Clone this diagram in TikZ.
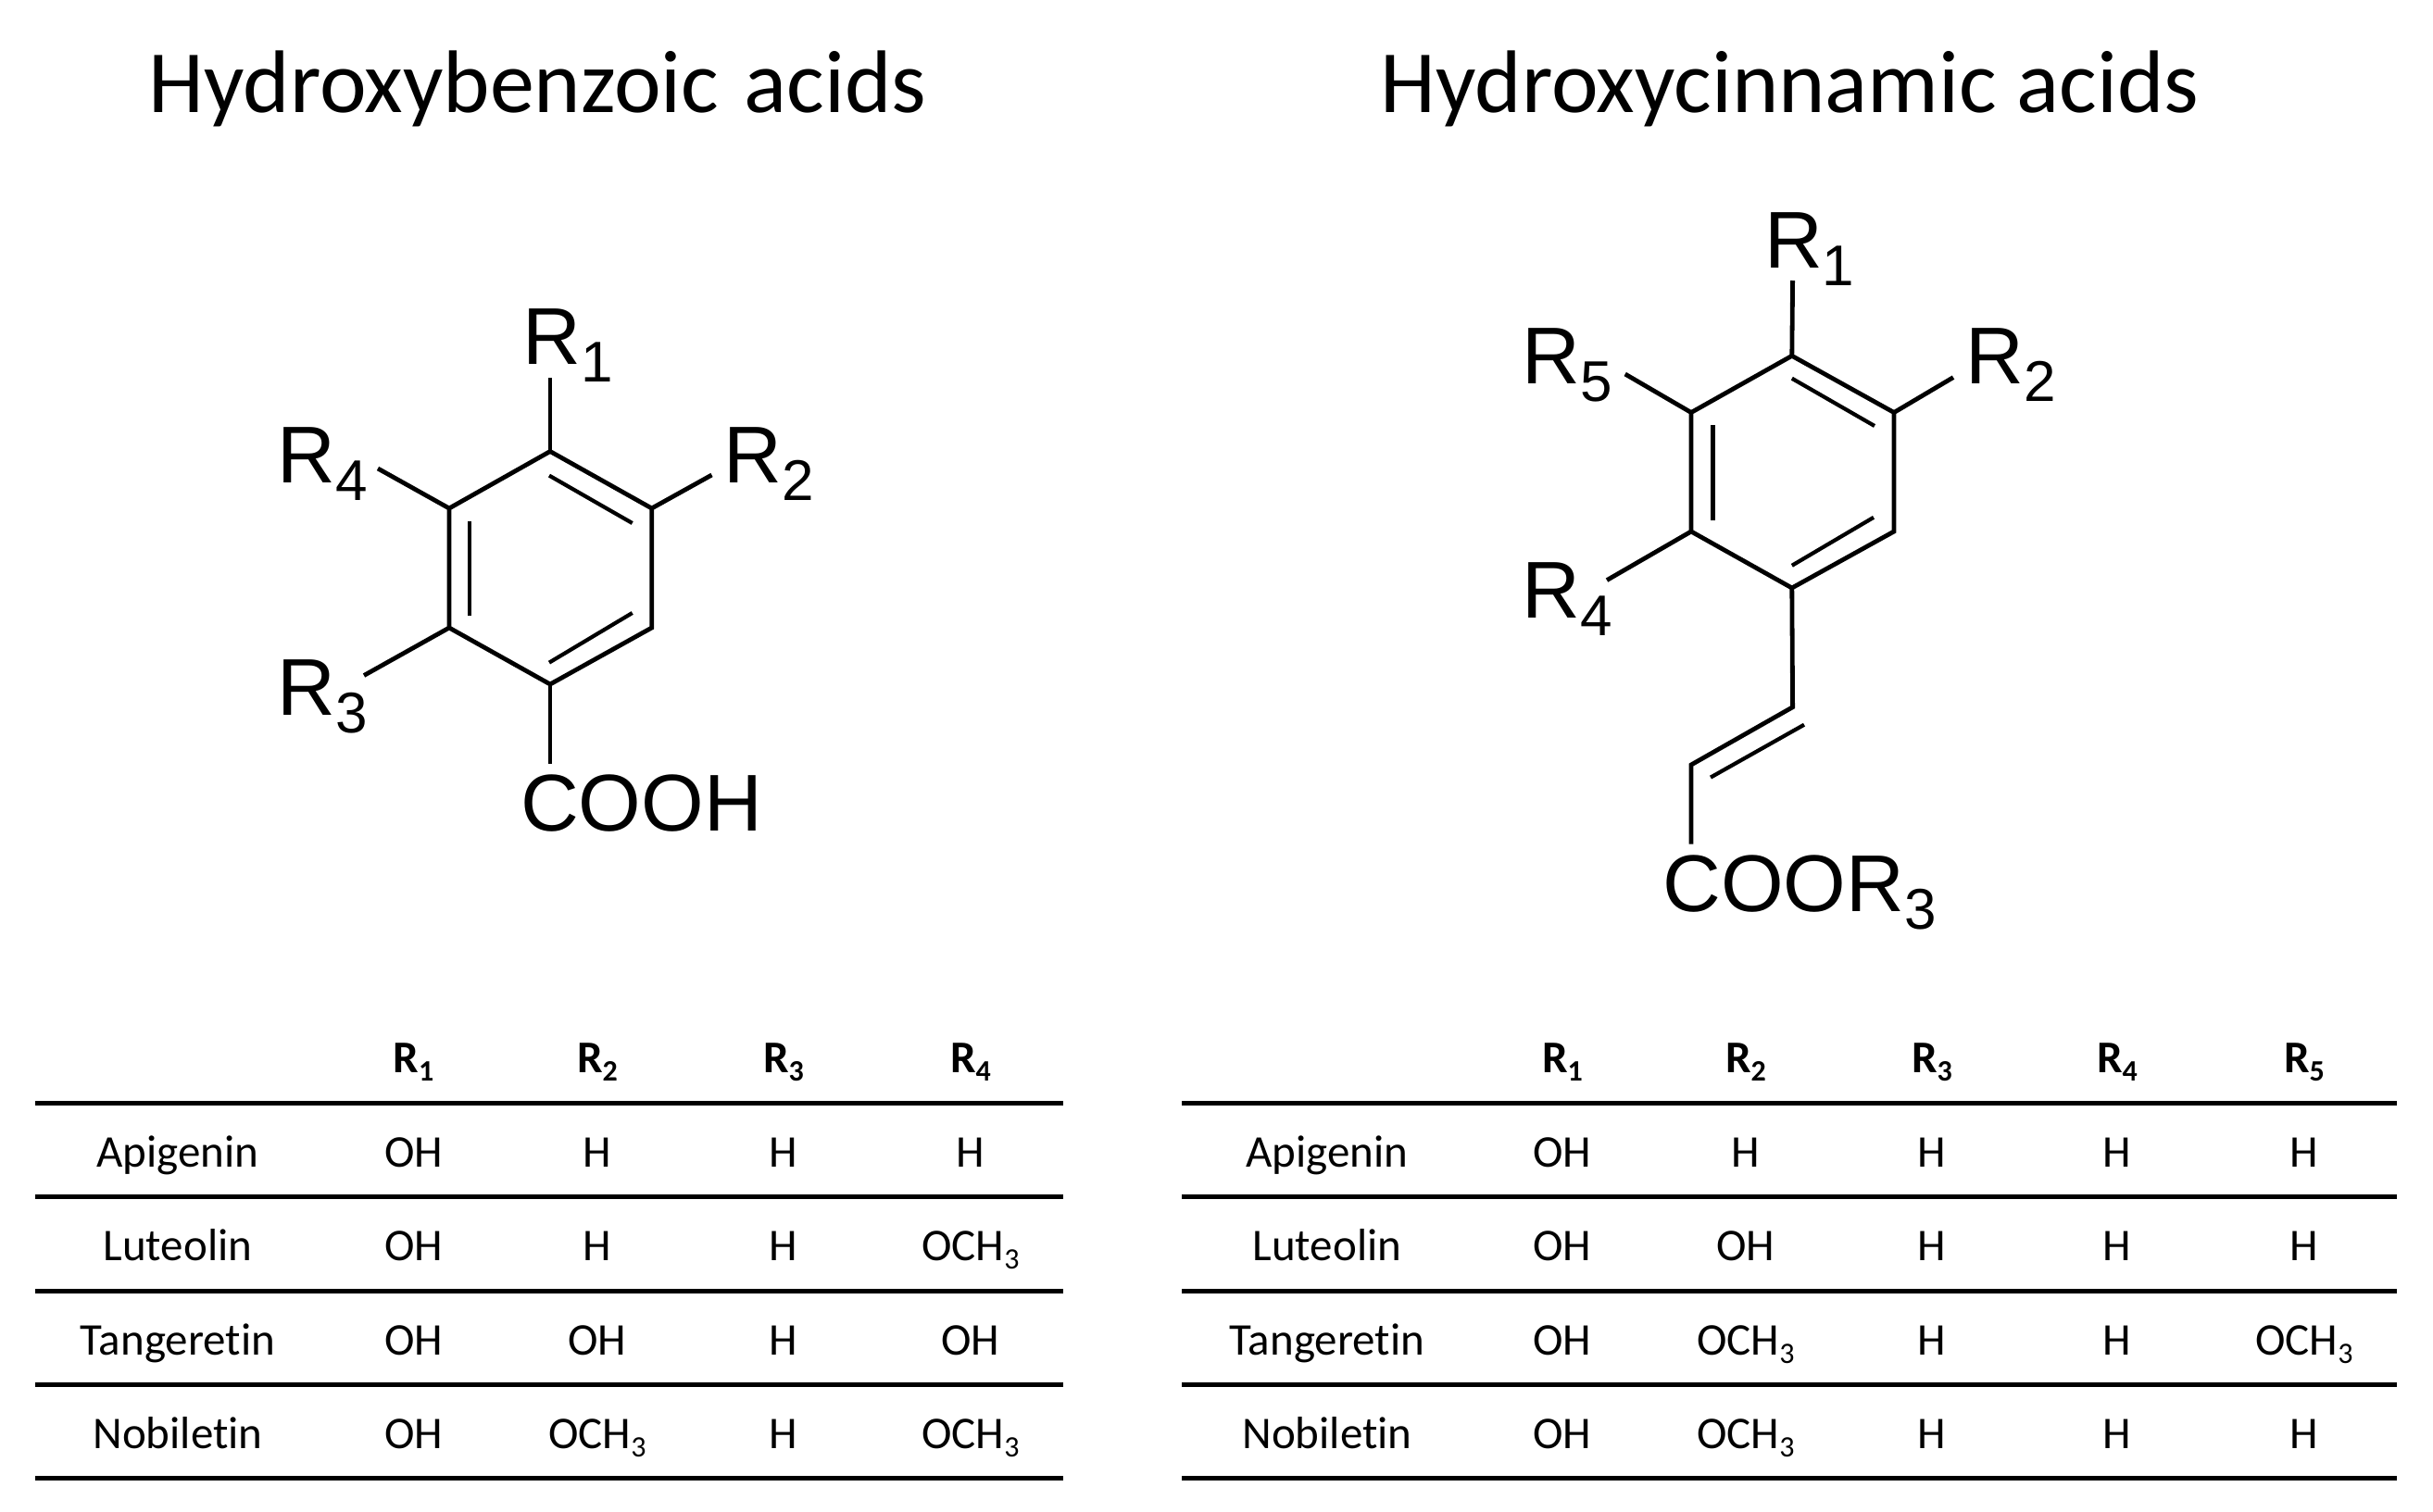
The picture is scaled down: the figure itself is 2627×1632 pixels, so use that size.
\documentclass[tikz,border=0pt]{standalone}
\usepackage{fontspec}
\setmainfont[Ligatures=NoCommon]{Carlito}
\newfontfamily\chemfont{Liberation Sans}
\usepackage{tikz}
\newcommand{\rsub}[1]{R\raisebox{-9.5pt}{\fontsize{31}{31}\selectfont #1}}
\newcommand{\csub}[1]{\raisebox{-4.5pt}{\fontsize{16}{16}\selectfont #1}}

\begin{document}
\begin{tikzpicture}
		[x=0.5pt, y=-0.5pt, inner sep=0pt,
		group/.style	= {anchor=base west, font=\chemfont\fontsize{43.5}{43.5}\selectfont},
		heading/.style	= {anchor=base west, font=\fontsize{48}{48}\selectfont},
		cell/.style		= {anchor=base, font=\fontsize{24.5}{24.5}\selectfont},
		head/.style		= {anchor=base, font=\bfseries\fontsize{24.5}{24.5}\selectfont},
		bond/.style		= {line width=2.4pt, line join=miter},
		inner bond/.style	= {line width=2.1pt},
		tablerule/.style	= {line width=2.5pt}]
		
		\useasboundingbox (0, 0) rectangle (2627, 1632);
		
		\node at (160, 121)		[heading]	(htitle)	{Hydroxybenzoic\hspace{3pt} acids};
		\node at (1490, 121)	[heading]	(ctitle)	{Hydroxycinnamic acids};
		
		% benzoic ring
		\coordinate (b1) at (594, 487.5);
		\coordinate (b2) at (703.7, 549);
		\coordinate (b3) at (703.7, 678);
		\coordinate (b4) at (594, 739);
		\coordinate (b5) at (485, 678);
		\coordinate (b6) at (485, 549);
		
		\coordinate (bi1) at (593, 513.6);
		\coordinate (bi2) at (682.7, 565);
		\coordinate (bi3) at (682.7, 662);
		\coordinate (bi4) at (593, 715.6);
		\coordinate (bi5) at (506.7, 665);
		\coordinate (bi6) at (506.7, 563);
		
		\coordinate (bR1) at (594, 408);
		\coordinate (bR2) at (768.5, 513);
		\coordinate (bR3) at (393, 729.5);
		\coordinate (bR4) at (408, 506);
		\coordinate (bCO) at (594, 825);
		
		\node at (564, 393.6)	[group]	(bl1)	{\rsub{1}};
		\node at (781.4, 521)	[group]	(bl2)	{\rsub{2}};
		\node at (299, 772.4)	[group]	(bl3)	{\rsub{3}};
		\node at (299, 521)		[group]	(bl4)	{\rsub{4}};
		\node at (561.7, 897.4)	[group]	(blc)	{COOH};
		
		\draw [bond] (b1) -- (b2) -- (b3) -- (b4) -- (b5) -- (b6) -- cycle;
		\draw [inner bond] (bi1) -- (bi2);
		\draw [inner bond] (bi3) -- (bi4);
		\draw [inner bond] (bi5) -- (bi6);
		\draw [bond] (b1) -- (bR1);
		\draw [bond] (b2) -- (bR2);
		\draw [bond] (b5) -- (bR3);
		\draw [bond] (b6) -- (bR4);
		\draw [bond] (b4) -- (bCO);
		
		% cinnamic ring
		\coordinate (c1) at (1934.8, 384.3);
		\coordinate (c2) at (2045, 445.5);
		\coordinate (c3) at (2045, 574);
		\coordinate (c4) at (1934.8, 635);
		\coordinate (c5) at (1826, 574);
		\coordinate (c6) at (1826, 445.5);
		
		\coordinate (ci1) at (1934.8, 408.7);
		\coordinate (ci2) at (2024, 460);
		\coordinate (ci3) at (2023, 558.8);
		\coordinate (ci4) at (1934.8, 610.8);
		\coordinate (ci5) at (1849.4, 561.5);
		\coordinate (ci6) at (1849.4, 458.5);
		
		\coordinate (cR1) at (1935.6, 303);
		\coordinate (cR2) at (2109, 407.6);
		\coordinate (cR4) at (1735, 626.6);
		\coordinate (cR5) at (1754.7, 404);
		\coordinate (cv1) at (1935.6, 763.7);
		\coordinate (cv2) at (1826, 826);
		\coordinate (cv3) at (1826, 911.6);
		\coordinate (cvi1) at (1948, 782.7);
		\coordinate (cvi2) at (1847, 839.6);
		
		\node at (1904.6, 289.4)	[group]	(cl1)	{\rsub{1}};
		\node at (2122, 414)		[group]	(cl2)	{\rsub{2}};
		\node at (1643, 667.8)		[group]	(cl4)	{\rsub{4}};
		\node at (1643, 414)		[group]	(cl5)	{\rsub{5}};
		\node at (1795, 984)		[group]	(clc)	{COO\rsub{3}};
		
		\draw [bond] (c1) -- (c2) -- (c3) -- (c4) -- (c5) -- (c6) -- cycle;
		\draw [inner bond] (ci1) -- (ci2);
		\draw [inner bond] (ci3) -- (ci4);
		\draw [inner bond] (ci5) -- (ci6);
		\draw [bond] (c1) -- (cR1);
		\draw [bond] (c2) -- (cR2);
		\draw [bond] (c5) -- (cR4);
		\draw [bond] (c6) -- (cR5);
		\draw [bond] (c4) -- (cv1) -- (cv2) -- (cv3);
		\draw [inner bond] (cvi1) -- (cvi2);
		
		% left table
		\node at (446.5, 1158)	[head]	(lh1)	{R\csub{1}};
		\node at (645, 1158)	[head]	(lh2)	{R\csub{2}};
		\node at (846, 1158)	[head]	(lh3)	{R\csub{3}};
		\node at (1048, 1158)	[head]	(lh4)	{R\csub{4}};
		
		\node at (192, 1260)	[cell]	(la)	{Apigenin};
		\node at (446.5, 1260)	[cell]	(la1)	{OH};
		\node at (645, 1260)	[cell]	(la2)	{H};
		\node at (846, 1260)	[cell]	(la3)	{H};
		\node at (1048, 1260)	[cell]	(la4)	{H};
		
		\node at (192, 1361.3)	[cell]	(lb)	{Luteolin};
		\node at (446.5, 1361.3)	[cell]	(lb1)	{OH};
		\node at (645, 1361.3)	[cell]	(lb2)	{H};
		\node at (846, 1361.3)	[cell]	(lb3)	{H};
		\node at (1048, 1361.3)	[cell]	(lb4)	{OCH\csub{3}};
		
		\node at (192, 1463)	[cell]	(lc)	{Tangeretin};
		\node at (446.5, 1463)	[cell]	(lc1)	{OH};
		\node at (645, 1463)	[cell]	(lc2)	{OH};
		\node at (846, 1463)	[cell]	(lc3)	{H};
		\node at (1048, 1463)	[cell]	(lc4)	{OH};
		
		\node at (192, 1564.4)	[cell]	(ld)	{Nobiletin};
		\node at (446.5, 1564.4)	[cell]	(ld1)	{OH};
		\node at (645, 1564.4)	[cell]	(ld2)	{OCH\csub{3}};
		\node at (846, 1564.4)	[cell]	(ld3)	{H};
		\node at (1048, 1564.4)	[cell]	(ld4)	{OCH\csub{3}};
		
		\coordinate (lr0a) at (38, 1191.6);		\coordinate (lr0b) at (1148, 1191.6);
		\coordinate (lr1a) at (38, 1292.4);		\coordinate (lr1b) at (1148, 1292.4);
		\coordinate (lr2a) at (38, 1394);		\coordinate (lr2b) at (1148, 1394);
		\coordinate (lr3a) at (38, 1495.5);		\coordinate (lr3b) at (1148, 1495.5);
		\coordinate (lr4a) at (38, 1596.7);		\coordinate (lr4b) at (1148, 1596.7);
		
		\draw [tablerule] (lr0a) -- (lr0b);
		\draw [tablerule] (lr1a) -- (lr1b);
		\draw [tablerule] (lr2a) -- (lr2b);
		\draw [tablerule] (lr3a) -- (lr3b);
		\draw [tablerule] (lr4a) -- (lr4b);
		
		% right table
		\node at (1687, 1158)	[head]	(rh1)	{R\csub{1}};
		\node at (1885, 1158)	[head]	(rh2)	{R\csub{2}};
		\node at (2086, 1158)	[head]	(rh3)	{R\csub{3}};
		\node at (2286, 1158)	[head]	(rh4)	{R\csub{4}};
		\node at (2488, 1158)	[head]	(rh5)	{R\csub{5}};
		
		\node at (1433, 1260)	[cell]	(ra)	{Apigenin};
		\node at (1687, 1260)	[cell]	(ra1)	{OH};
		\node at (1885, 1260)	[cell]	(ra2)	{H};
		\node at (2086, 1260)	[cell]	(ra3)	{H};
		\node at (2286, 1260)	[cell]	(ra4)	{H};
		\node at (2488, 1260)	[cell]	(ra5)	{H};
		
		\node at (1433, 1361.3)	[cell]	(rb)	{Luteolin};
		\node at (1687, 1361.3)	[cell]	(rb1)	{OH};
		\node at (1885, 1361.3)	[cell]	(rb2)	{OH};
		\node at (2086, 1361.3)	[cell]	(rb3)	{H};
		\node at (2286, 1361.3)	[cell]	(rb4)	{H};
		\node at (2488, 1361.3)	[cell]	(rb5)	{H};
		
		\node at (1433, 1463)	[cell]	(rc)	{Tangeretin};
		\node at (1687, 1463)	[cell]	(rc1)	{OH};
		\node at (1885, 1463)	[cell]	(rc2)	{OCH\csub{3}};
		\node at (2086, 1463)	[cell]	(rc3)	{H};
		\node at (2286, 1463)	[cell]	(rc4)	{H};
		\node at (2488, 1463)	[cell]	(rc5)	{OCH\csub{3}};
		
		\node at (1433, 1564.4)	[cell]	(rd)	{Nobiletin};
		\node at (1687, 1564.4)	[cell]	(rd1)	{OH};
		\node at (1885, 1564.4)	[cell]	(rd2)	{OCH\csub{3}};
		\node at (2086, 1564.4)	[cell]	(rd3)	{H};
		\node at (2286, 1564.4)	[cell]	(rd4)	{H};
		\node at (2488, 1564.4)	[cell]	(rd5)	{H};
		
		\coordinate (rr0a) at (1276, 1191.6);	\coordinate (rr0b) at (2588, 1191.6);
		\coordinate (rr1a) at (1276, 1292.4);	\coordinate (rr1b) at (2588, 1292.4);
		\coordinate (rr2a) at (1276, 1394);		\coordinate (rr2b) at (2588, 1394);
		\coordinate (rr3a) at (1276, 1495.5);	\coordinate (rr3b) at (2588, 1495.5);
		\coordinate (rr4a) at (1276, 1596.7);	\coordinate (rr4b) at (2588, 1596.7);
		
		\draw [tablerule] (rr0a) -- (rr0b);
		\draw [tablerule] (rr1a) -- (rr1b);
		\draw [tablerule] (rr2a) -- (rr2b);
		\draw [tablerule] (rr3a) -- (rr3b);
		\draw [tablerule] (rr4a) -- (rr4b);
		
\end{tikzpicture}
\end{document}
